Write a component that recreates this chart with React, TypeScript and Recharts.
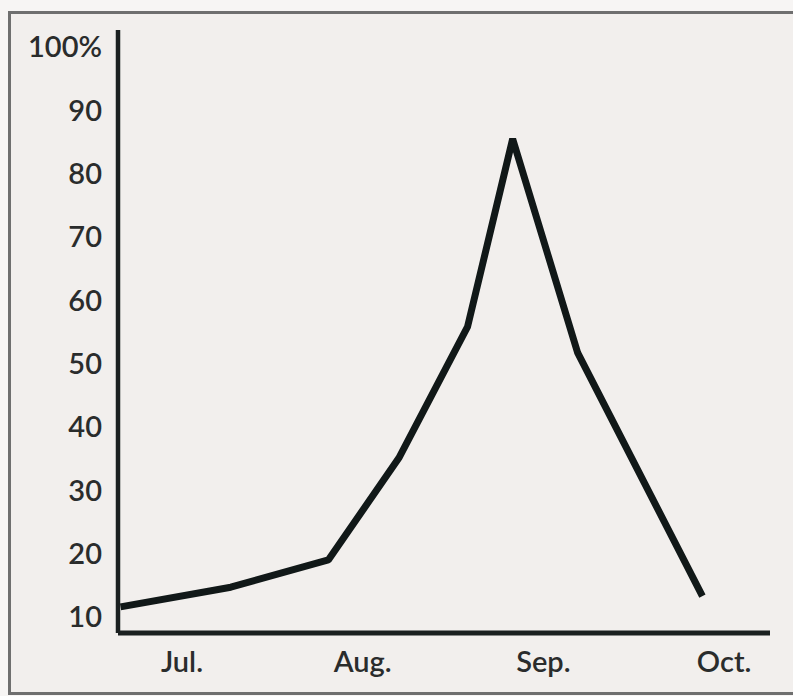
import { Line, LineChart, XAxis, YAxis } from 'recharts'

// x positions are in months counted from Jul. (0 = Jul., 3 = Oct.)
const monthLabels = ['Jul.', 'Aug.', 'Sep.', 'Oct.']
const monthTicks = [0, 1, 2, 3]
const pointMonths = [-0.34, 0.27, 0.81, 1.2, 1.58, 1.83, 2.19, 2.88]
const pointValues = [11.6, 14.7, 19.0, 35.1, 55.8, 85.5, 51.7, 13.3]
const valueTicks = [10, 20, 30, 40, 50, 60, 70, 80, 90, 100]

const data = pointMonths.map((month, i) => ({ month, value: pointValues[i] }))

const labelStyle = {
  fill: '#2a2c2c',
  fontSize: 29,
  fontWeight: 600,
  fontFamily: 'Lato, "Open Sans", sans-serif',
}

export default function App() {
  return (
    <div
      style={{
        position: 'absolute',
        left: 0,
        top: 0,
        width: 793,
        height: 696,
        overflow: 'hidden',
        background: '#f7f5f4',
      }}
    >
      <div
        style={{
          position: 'absolute',
          left: 8,
          top: 11,
          width: 800,
          height: 678,
          borderLeft: '3px solid #6f6f6f',
          borderTop: '3px solid #6f6f6f',
          borderBottom: '3px solid #6f6f6f',
          background: '#f2efed',
        }}
      />
      <div style={{ position: 'absolute', left: 0, top: 0 }}>
        <LineChart
          width={793}
          height={696}
          data={data}
          margin={{ top: 30, right: 23, bottom: 13, left: 18 }}
        >
          <XAxis
            dataKey="month"
            type="number"
            domain={[-0.354, 3.254]}
            ticks={monthTicks}
            tickFormatter={(v) => monthLabels[v] ?? ''}
            height={50}
            tickSize={0}
            tickMargin={18}
            tick={labelStyle}
            axisLine={{ stroke: '#1b2020', strokeWidth: 5 }}
            interval={0}
          />
          <YAxis
            type="number"
            domain={[7.47, 102.7]}
            ticks={valueTicks}
            tickFormatter={(v) => (v === 100 ? '100%' : String(v))}
            width={100}
            tickSize={0}
            tickMargin={16}
            tick={labelStyle}
            axisLine={{ stroke: '#1b2020', strokeWidth: 4.5 }}
            interval={0}
          />
          <Line
            type="linear"
            dataKey="value"
            stroke="#111818"
            strokeWidth={7}
            strokeLinejoin="bevel"
            dot={false}
            activeDot={false}
            isAnimationActive={false}
          />
        </LineChart>
      </div>
    </div>
  )
}
